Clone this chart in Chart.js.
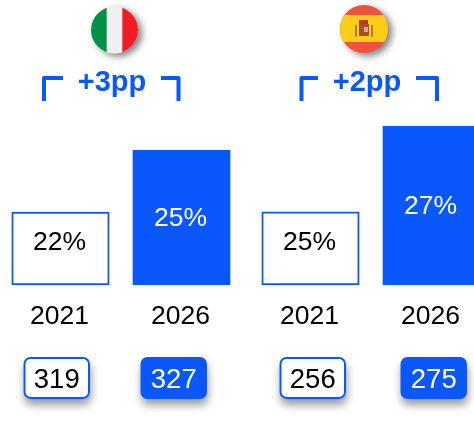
<!DOCTYPE html>
<html><head><meta charset="utf-8">
<script src="https://cdn.jsdelivr.net/npm/chart.js@4"></script>
<style>
html,body{margin:0;padding:0;background:#fff;width:474px;height:421px;overflow:hidden}
canvas{position:absolute;top:0}
</style></head><body>
<canvas id="italy" width="242" height="421" style="left:0"></canvas>
<canvas id="spain" width="242" height="421" style="left:250px"></canvas>
<script>
const years = ['2021', '2026'];
const italyShare = [22, 25];
const spainShare = [25, 27];
const italyTotals = [319, 327];
const spainTotals = [256, 275];
const italyDelta = '+3pp';
const spainDelta = '+2pp';

const BLUE = '#0a58fc';
const FONT = '"Liberation Sans", Arial, sans-serif';

function roundedRect(c, x, y, w, h, r) {
  c.beginPath();
  c.roundRect(x, y, w, h, r);
}
function drawItaly(c, cx, cy, r) {
  c.save();
  c.shadowColor = 'rgba(0,0,0,.5)'; c.shadowBlur = 7; c.shadowOffsetX = 4; c.shadowOffsetY = 3;
  c.beginPath(); c.arc(cx, cy, r, 0, Math.PI * 2); c.fillStyle = '#f0f0f0'; c.fill();
  c.restore();
  c.save();
  c.beginPath(); c.arc(cx, cy, r, 0, Math.PI * 2); c.clip();
  c.fillStyle = '#009246'; c.fillRect(cx - r, cy - r, r * 2 / 3 + 0.3, r * 2);
  c.fillStyle = '#f0f0f0'; c.fillRect(cx - r / 3, cy - r, r * 2 / 3, r * 2);
  c.fillStyle = '#f01c24'; c.fillRect(cx + r / 3, cy - r, r * 2 / 3, r * 2);
  c.restore();
}
function drawSpain(c, cx, cy, r) {
  c.save();
  c.shadowColor = 'rgba(0,0,0,.5)'; c.shadowBlur = 7; c.shadowOffsetX = 4; c.shadowOffsetY = 3;
  c.beginPath(); c.arc(cx, cy, r, 0, Math.PI * 2); c.fillStyle = '#ee5340'; c.fill();
  c.restore();
  c.save();
  c.beginPath(); c.arc(cx, cy, r, 0, Math.PI * 2); c.clip();
  c.fillStyle = '#ffcd16'; c.fillRect(cx - r, cy - 14, r * 2, 27);
  c.restore();
  c.fillStyle = '#b5793a'; c.fillRect(cx - 9, cy - 4, 2, 12); c.fillRect(cx + 7, cy - 4, 2, 12);
  c.fillStyle = '#b53a24'; c.fillRect(cx - 5, cy - 9, 9, 4);
  c.fillStyle = '#a5502a'; c.fillRect(cx - 5, cy - 5, 10, 12);
  c.fillStyle = '#d9a7a0'; c.fillRect(cx, cy - 2, 4, 5);
}

function panelPlugin(cfg) {
  return {
    id: 'panel',
    afterDatasetsDraw(chart) {
      const c = chart.ctx, sx = chart.scales.x, sy = chart.scales.y;
      c.save();
      c.textAlign = 'center'; c.textBaseline = 'middle';
      cfg.share.forEach((v, i) => {
        c.font = '26.5px ' + FONT;
        c.fillStyle = i === 0 ? '#000' : '#fff';
        const y = (sy.getPixelForValue(v) + sy.bottom) / 2 + cfg.labelShift[i];
        c.fillText(v + '%', sx.getPixelForValue(i) - 1, y);
      });
      cfg.totals.forEach((v, i) => {
        const x = cfg.pillX[i], y = 357, w = 66.5, h = 42;
        c.save();
        c.shadowColor = 'rgba(0,0,0,.4)'; c.shadowBlur = 8; c.shadowOffsetX = 1; c.shadowOffsetY = 6;
        roundedRect(c, x, y, w, h, 7);
        c.fillStyle = i === 0 ? '#fff' : BLUE;
        c.fill();
        c.restore();
        if (i === 0) {
          roundedRect(c, x + 1, y + 1, w - 2, h - 2, 6);
          c.strokeStyle = BLUE; c.lineWidth = 2; c.stroke();
        }
        c.font = '27.5px ' + FONT;
        c.fillStyle = i === 0 ? '#000' : '#fff';
        c.fillText(String(v), x + w / 2, y + 23);
      });
      c.fillStyle = BLUE;
      c.font = 'bold 29px ' + FONT;
      c.fillText(cfg.delta, cfg.deltaX, 83);
      c.strokeStyle = BLUE; c.lineWidth = 4; c.lineCap = 'butt'; c.lineJoin = 'round';
      c.beginPath();
      c.moveTo(cfg.bracket[0], 101); c.lineTo(cfg.bracket[0], 78); c.lineTo(cfg.bracket[1], 78);
      c.moveTo(cfg.bracket[2], 78); c.lineTo(cfg.bracket[3], 78); c.lineTo(cfg.bracket[3], 101);
      c.stroke();
      cfg.flag(c, cfg.flagX, cfg.flagY, cfg.flagR);
      c.restore();
    }
  };
}

function buildPanel(id, label, share, yMin, yMax, cfg) {
  new Chart(document.getElementById(id), {
    type: 'bar',
    data: {
      labels: years,
      datasets: [{
        label,
        data: share.map(v => [yMin, v]),
        backgroundColor: ['#ffffff', BLUE],
        borderColor: BLUE,
        borderWidth: 2,
        borderSkipped: false,
        barThickness: 97.5,
        clip: false
      }]
    },
    options: {
      responsive: false,
      animation: false,
      events: [],
      layout: { padding: { top: cfg.top, left: 0, right: 0, bottom: 0 } },
      plugins: { legend: { display: false }, tooltip: { enabled: false } },
      scales: {
        x: {
          grid: { display: false, drawTicks: false },
          border: { display: false },
          ticks: { color: '#000', padding: 16, labelOffset: -1, maxRotation: 0, font: { family: FONT, size: 26.5 } },
          afterFit(s) { s.height = 136; }
        },
        y: { display: false, min: yMin, max: yMax }
      }
    },
    plugins: [panelPlugin(Object.assign({ share }, cfg))]
  });
}

buildPanel('italy', 'Italy', italyShare, 18.47, 26.16, {
  top: 126, totals: italyTotals, delta: italyDelta, labelShift: [-6, 1],
  pillX: [23.5, 140.5], deltaX: 112, bracket: [44, 63, 161, 178.5],
  flag: drawItaly, flagX: 114.5, flagY: 30, flagR: 23.5
});
buildPanel('spain', 'Spain', spainShare, 23.3, 27, {
  top: 126, totals: spainTotals, delta: spainDelta, labelShift: [-6, 1],
  pillX: [29.5, 150.5], deltaX: 117, bracket: [51.5, 68, 166, 187],
  flag: drawSpain, flagX: 114, flagY: 29, flagR: 24
});
</script>
</body></html>
